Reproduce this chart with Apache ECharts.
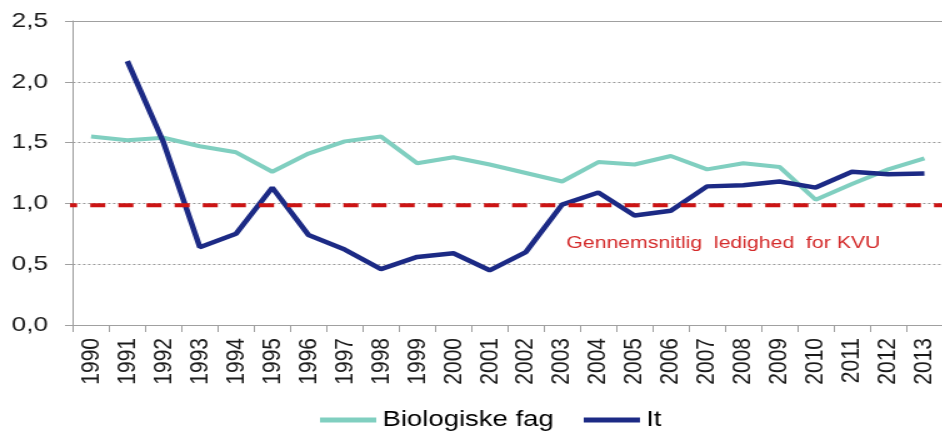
<!DOCTYPE html>
<html><head><meta charset="utf-8">
<script src="https://cdn.jsdelivr.net/npm/echarts@6/dist/echarts.min.js"></script>
<style>
html,body{margin:0;padding:0;background:#fff;overflow:hidden}
#wrap{width:942px;height:433px;overflow:hidden;position:relative}
#chart{width:754px;height:433px;transform:scaleX(1.25);transform-origin:0 0}
</style></head><body><div id="wrap"><div id="chart"></div></div>
<script>
const years = ['1990','1991','1992','1993','1994','1995','1996','1997','1998','1999','2000','2001','2002','2003','2004','2005','2006','2007','2008','2009','2010','2011','2012','2013'];
const biologiske = [1.55,1.52,1.54,1.47,1.42,1.26,1.41,1.51,1.55,1.33,1.38,1.32,1.25,1.18,1.34,1.32,1.39,1.28,1.33,1.30,1.03,1.16,1.28,1.37];
const itValues = [null,2.17,1.50,0.64,0.75,1.13,0.74,0.62,0.46,0.56,0.59,0.45,0.60,0.99,1.09,0.90,0.94,1.14,1.15,1.18,1.13,1.26,1.24,1.245];
const kvuLevel = 0.985;
const kvuSpan = [-0.3, 24.5];
const seriesNames = ['Biologiske fag', 'It'];
const kvuLabel = 'Gennemsnitlig  ledighed  for KVU';

const FONT = '"Liberation Sans", Arial, sans-serif';
const chart = echarts.init(document.getElementById('chart'), null, {renderer: 'canvas'});
chart.setOption({
  animation: false,
  backgroundColor: '#fff',
  grid: {left: 58.4, right: -7.2, top: 21, bottom: 108, containLabel: false},
  legend: {
    data: seriesNames,
    left: 251, top: 404,
    icon: 'rect', itemWidth: 45, itemHeight: 5, itemGap: 24,
    textStyle: {fontFamily: FONT, fontSize: 22, color: '#000'}
  },
  xAxis: [{
    type: 'category', data: years, boundaryGap: true,
    axisLine: {lineStyle: {color: '#a0a0a0', width: 1}},
    axisTick: {show: true, length: 7, lineStyle: {color: '#a0a0a0'}},
    axisLabel: {rotate: 90, margin: 13, interval: 0, fontFamily: FONT, fontSize: 21, color: '#1a1a1a'},
    splitLine: {show: false}
  }, {
    type: 'value', min: 0, max: 24, position: 'top', show: true,
    axisLine: {show: true, lineStyle: {color: '#a0a0a0', width: 1}},
    axisTick: {show: false}, axisLabel: {show: false}, splitLine: {show: false}
  }],
  yAxis: {
    type: 'value', min: 0, max: 2.5, interval: 0.5,
    axisLine: {show: true, lineStyle: {color: '#a0a0a0', width: 1}},
    axisTick: {show: true, length: 6.4, lineStyle: {color: '#a0a0a0'}},
    axisLabel: {margin: 20, fontFamily: FONT, fontSize: 21, color: '#1a1a1a',
      formatter: v => v.toFixed(1).replace('.', ',')},
    splitLine: {show: true, lineStyle: {color: '#9a9a9a', type: [2, 2], width: 1}}
  },
  series: [{
    name: seriesNames[0], type: 'line', data: biologiske, showSymbol: false, symbol: 'none',
    lineStyle: {color: '#80CFC0', width: 4}, itemStyle: {color: '#80CFC0'}, z: 3
  }, {
    name: seriesNames[1], type: 'line', data: itValues, showSymbol: false, symbol: 'none',
    lineStyle: {color: '#1C2A85', width: 4.5}, itemStyle: {color: '#1C2A85'}, z: 4
  }, {
    name: 'KVU', type: 'line', xAxisIndex: 1, clip: false, symbol: 'none',
    data: kvuSpan.map(x => [x, kvuLevel]),
    lineStyle: {color: '#CC1414', width: 4, type: [12, 10.5]}, z: 5
  }],
  graphic: [{
    type: 'text', left: 453, top: 235, z: 10,
    style: {text: kvuLabel, fill: '#D42A2A', font: '17px "Liberation Sans", Arial, sans-serif'}
  }]
});
</script></body></html>
